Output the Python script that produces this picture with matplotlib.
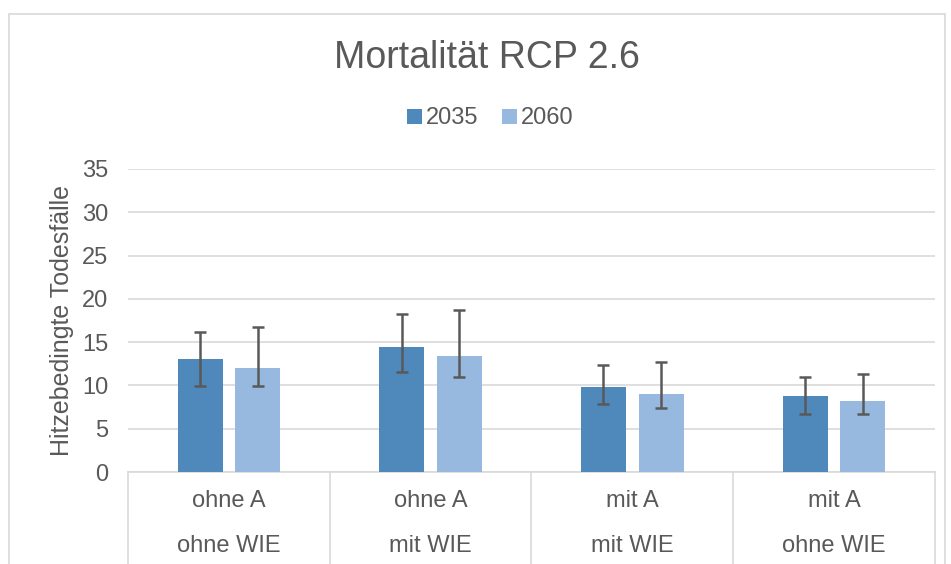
import matplotlib.pyplot as plt
import numpy as np
from matplotlib.patches import Rectangle

plt.rcParams['font.family'] = ['Liberation Sans', 'DejaVu Sans']

row1 = ['ohne A', 'ohne A', 'mit A', 'mit A']
row2 = ['ohne WIE', 'mit WIE', 'mit WIE', 'ohne WIE']
v2035 = [13.0, 14.45, 9.8, 8.75]
v2060 = [12.05, 13.4, 9.05, 8.15]
hi2035 = [16.2, 18.25, 12.4, 11.0]
lo2035 = [9.95, 11.6, 7.8, 6.75]
hi2060 = [16.75, 18.75, 12.7, 11.3]
lo2060 = [9.95, 10.95, 7.4, 6.75]

txt = '#595959'
grid = '#D9D9D9'

fig = plt.figure(figsize=(9.51, 5.64), dpi=100)
ax = fig.add_axes([0.1346, 0.1631, 0.983 - 0.1346, 0.7004 - 0.1631])

x = np.arange(len(row1))
w = 0.223
off = 0.143
err35 = [np.array(v2035) - np.array(lo2035), np.array(hi2035) - np.array(v2035)]
err60 = [np.array(v2060) - np.array(lo2060), np.array(hi2060) - np.array(v2060)]
ax.bar(x - off, v2035, w, color='#4F88BB', label='2035', zorder=3)
ax.bar(x + off, v2060, w, color='#97B8DF', label='2060', zorder=3)
ax.errorbar(x - off, v2035, yerr=err35, fmt='none', ecolor=txt, elinewidth=1.8,
            capsize=4.5, capthick=1.8, zorder=4)
ax.errorbar(x + off, v2060, yerr=err60, fmt='none', ecolor=txt, elinewidth=1.8,
            capsize=4.5, capthick=1.8, zorder=4)

ax.set_xlim(-0.5, len(row1) - 0.5)
ax.set_ylim(0, 35)
ax.set_yticks(range(0, 36, 5))
ax.yaxis.grid(True, color=grid, linewidth=1.2, zorder=0)
ax.tick_params(axis='y', length=0, labelsize=17, colors=txt, pad=14)
ax.set_xticks([])
for s in ['top', 'right', 'left']:
    ax.spines[s].set_visible(False)
ax.spines['bottom'].set_color(grid)
ax.spines['bottom'].set_linewidth(1.2)
ax.set_ylabel('Hitzebedingte Todesfälle', fontsize=18, color=txt, labelpad=6)

# category labels, two rows, with divider lines
trans = ax.get_xaxis_transform()
for i in range(len(row1)):
    ax.text(x[i], -0.095, row1[i], transform=trans, ha='center', va='center',
            fontsize=17, color=txt)
    ax.text(x[i], -0.245, row2[i], transform=trans, ha='center', va='center',
            fontsize=17, color=txt)
for b in np.arange(-0.5, len(row1), 1.0):
    ax.plot([b, b], [0, -0.31], transform=trans, color=grid, linewidth=1.2,
            clip_on=False)

fig.text(0.512, 0.898, 'Mortalität RCP 2.6', ha='center', va='center',
         fontsize=27, color=txt)
fig.legend(loc='center', bbox_to_anchor=(0.516, 0.79), ncol=2, frameon=False,
           fontsize=17, handlelength=0.6, handleheight=0.6, handletextpad=0.2,
           columnspacing=1.0, labelcolor=txt)

fig.patches.append(Rectangle((0.009, -0.01), 0.985, 0.985, transform=fig.transFigure,
                             fill=False, edgecolor=grid, linewidth=1.2))

fig.savefig('out.png', dpi=100)
